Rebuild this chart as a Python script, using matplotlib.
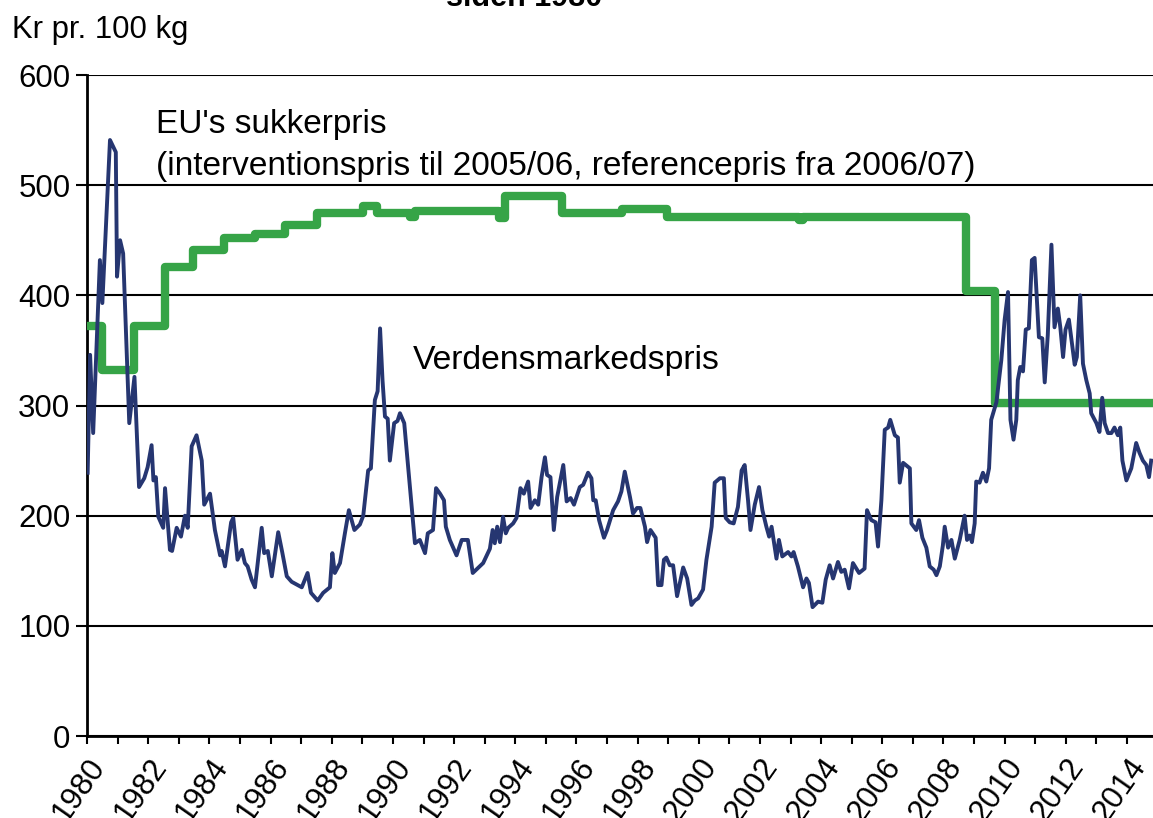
import matplotlib
matplotlib.use("Agg")
import matplotlib.pyplot as plt

plt.rcParams["font.family"] = ["Liberation Sans", "DejaVu Sans"]

# world market price (Verdensmarkedspris), kr per 100 kg
world_year = [
    1980.02, 1980.10, 1980.20, 1980.42, 1980.50, 1980.75, 1980.94, 1980.98, 1981.08, 1981.18,
    1981.38, 1981.55, 1981.70, 1981.87, 1981.98, 1982.11, 1982.17, 1982.25, 1982.33, 1982.49,
    1982.55, 1982.71, 1982.78, 1982.93, 1983.07, 1983.20, 1983.29, 1983.42, 1983.58, 1983.75,
    1983.83, 1984.02, 1984.18, 1984.35, 1984.40, 1984.51, 1984.71, 1984.78, 1984.92, 1985.06,
    1985.16, 1985.25, 1985.38, 1985.49, 1985.71, 1985.79, 1985.91, 1986.04, 1986.25, 1986.38,
    1986.53, 1986.69, 1987.02, 1987.21, 1987.32, 1987.54, 1987.72, 1987.94, 1988.02, 1988.10,
    1988.27, 1988.43, 1988.56, 1988.74, 1988.92, 1989.03, 1989.19, 1989.28, 1989.41, 1989.50,
    1989.58, 1989.66, 1989.74, 1989.83, 1989.90, 1990.04, 1990.15, 1990.23, 1990.37, 1990.72,
    1990.88, 1991.05, 1991.14, 1991.31, 1991.41, 1991.54, 1991.67, 1991.73, 1991.86, 1992.08,
    1992.25, 1992.35, 1992.45, 1992.61, 1992.84, 1992.95, 1993.17, 1993.26, 1993.33, 1993.41,
    1993.50, 1993.60, 1993.69, 1993.77, 1993.93, 1994.04, 1994.17, 1994.28, 1994.42, 1994.50,
    1994.64, 1994.75, 1994.86, 1994.97, 1995.04, 1995.15, 1995.26, 1995.37, 1995.57, 1995.68,
    1995.81, 1995.92, 1996.11, 1996.22, 1996.38, 1996.49, 1996.55, 1996.63, 1996.74, 1996.90,
    1997.00, 1997.20, 1997.36, 1997.47, 1997.58, 1997.75, 1997.85, 1997.98, 1998.09, 1998.24,
    1998.31, 1998.42, 1998.59, 1998.67, 1998.78, 1998.86, 1998.94, 1999.05, 1999.16, 1999.29,
    1999.49, 1999.62, 1999.76, 1999.87, 1999.98, 2000.14, 2000.25, 2000.42, 2000.52, 2000.69,
    2000.82, 2000.88, 2001.01, 2001.14, 2001.28, 2001.40, 2001.50, 2001.61, 2001.69, 2001.83,
    2001.97, 2002.08, 2002.21, 2002.30, 2002.38, 2002.54, 2002.62, 2002.73, 2002.92, 2003.03,
    2003.10, 2003.24, 2003.41, 2003.52, 2003.60, 2003.72, 2003.90, 2004.04, 2004.15, 2004.28,
    2004.39, 2004.55, 2004.66, 2004.77, 2004.91, 2005.04, 2005.24, 2005.42, 2005.50, 2005.64,
    2005.78, 2005.86, 2005.97, 2006.08, 2006.19, 2006.26, 2006.41, 2006.51, 2006.57, 2006.68,
    2006.90, 2006.95, 2007.11, 2007.20, 2007.31, 2007.44, 2007.55, 2007.68, 2007.77, 2007.88,
    2007.98, 2008.04, 2008.15, 2008.26, 2008.37, 2008.53, 2008.69, 2008.77, 2008.86, 2008.93,
    2009.02, 2009.07, 2009.18, 2009.29, 2009.40, 2009.49, 2009.56, 2009.73, 2009.89, 2010.00,
    2010.11, 2010.19, 2010.29, 2010.38, 2010.43, 2010.51, 2010.60, 2010.69, 2010.79, 2010.89,
    2010.98, 2011.12, 2011.23, 2011.31, 2011.41, 2011.53, 2011.63, 2011.74, 2011.82, 2011.91,
    2011.99, 2012.10, 2012.18, 2012.29, 2012.36, 2012.47, 2012.56, 2012.67, 2012.78, 2012.83,
    2013.00, 2013.10, 2013.19, 2013.27, 2013.38, 2013.49, 2013.59, 2013.70, 2013.78, 2013.85,
    2013.98, 2014.14, 2014.30, 2014.41, 2014.52, 2014.63, 2014.72, 2014.79,
]
world_price = [
    239, 346, 275, 432, 393, 541, 530, 417, 450, 438,
    284, 326, 226, 234, 244, 264, 232, 235, 199, 189,
    225, 169, 168, 189, 181, 200, 189, 263, 273, 250,
    210, 220, 187, 164, 168, 154, 194, 198, 160, 169,
    157, 154, 142, 135, 189, 166, 168, 145, 185, 167,
    145, 140, 135, 148, 130, 123, 130, 135, 166, 148,
    157, 184, 205, 187, 192, 200, 241, 243, 305, 313,
    370, 323, 290, 288, 250, 284, 286, 293, 284, 175,
    178, 166, 184, 187, 225, 220, 214, 190, 178, 164,
    178, 178, 178, 148, 154, 157, 170, 187, 175, 190,
    176, 199, 184, 189, 193, 198, 225, 220, 231, 207,
    214, 210, 235, 253, 237, 235, 187, 217, 246, 213,
    216, 210, 226, 228, 239, 234, 214, 214, 196, 180,
    187, 205, 213, 222, 240, 217, 202, 207, 207, 190,
    176, 187, 180, 137, 137, 160, 162, 155, 155, 127,
    153, 143, 119, 123, 125, 133, 160, 190, 230, 234,
    234, 198, 194, 193, 208, 241, 246, 214, 187, 210,
    226, 205, 190, 181, 190, 161, 178, 163, 167, 163,
    167, 154, 135, 143, 139, 117, 122, 121, 142, 155,
    143, 158, 149, 151, 134, 157, 148, 152, 205, 196,
    194, 172, 214, 278, 280, 287, 273, 271, 230, 248,
    243, 193, 187, 196, 180, 171, 154, 151, 146, 154,
    173, 190, 171, 178, 161, 178, 200, 178, 182, 176,
    193, 231, 230, 239, 231, 243, 287, 303, 341, 378,
    403, 287, 269, 287, 323, 335, 331, 369, 370, 432,
    434, 362, 361, 321, 364, 446, 371, 388, 371, 344,
    369, 378, 361, 337, 344, 400, 338, 323, 311, 293,
    284, 276, 307, 284, 275, 275, 280, 273, 280, 250,
    232, 243, 266, 257, 250, 246, 235, 250,
]

# EU sugar price (step series): year each level starts, and the level
eu_year = [1980.0, 1980.5, 1981.55, 1982.55, 1983.47, 1984.48, 1985.5, 1986.48, 1987.52,
           1989.03, 1989.49, 1990.57, 1990.72, 1993.48, 1993.66, 1995.53, 1997.5, 1998.97,
           2003.28, 2003.4, 2008.75, 2009.7, 2014.85]
eu_price = [372, 332, 372, 426, 441, 452, 456, 464, 475,
            481, 475, 471, 477, 470, 490, 475, 478, 471,
            468, 471, 404, 302, 302]

year_ticks = list(range(1980, 2015))
year_labels = [str(y) if y % 2 == 0 else "" for y in year_ticks]

fig = plt.figure(figsize=(11.53, 8.18), dpi=100)
ax = fig.add_axes([0.0755, 0.1002, 0.9245, 0.8081])

ax.plot(eu_year, eu_price, drawstyle="steps-post", color="#36a447", lw=6,
        solid_joinstyle="round", solid_capstyle="round", zorder=3)
ax.plot(world_year, world_price, color="#263671", lw=2.8, zorder=4)

ax.set_xlim(1980, 2014.85)
ax.set_ylim(0, 600)
ax.set_yticks(range(0, 601, 100))
ax.yaxis.grid(True, color="black", lw=1.5)
ax.set_axisbelow(True)
ax.set_xticks(year_ticks)
ax.set_xticklabels(year_labels, rotation=55, ha="right", va="top", rotation_mode="anchor")
ax.tick_params(axis="y", labelsize=22.5, length=8, width=1.5, direction="out", pad=4)
ax.tick_params(axis="x", labelsize=22.5, length=6, width=1.5, direction="out", pad=6)
for s in ("right", "top"):
    ax.spines[s].set_visible(False)
for s in ("left", "bottom"):
    ax.spines[s].set_linewidth(2)

ax.text(1982.25, 555, "EU's sukkerpris", fontsize=24, va="center")
ax.text(1982.25, 517, "(interventionspris til 2005/06, referencepris fra 2006/07)",
        fontsize=24, va="center")
ax.text(1990.65, 341, "Verdensmarkedspris", fontsize=24.3, va="center")

fig.text(0.01, 0.963, "Kr pr. 100 kg", fontsize=22.4, va="center")
fig.text(0.455, 0.993, "siden 1980", fontsize=22, fontweight="bold", ha="center", va="baseline")

fig.savefig("out.png", dpi=100)
